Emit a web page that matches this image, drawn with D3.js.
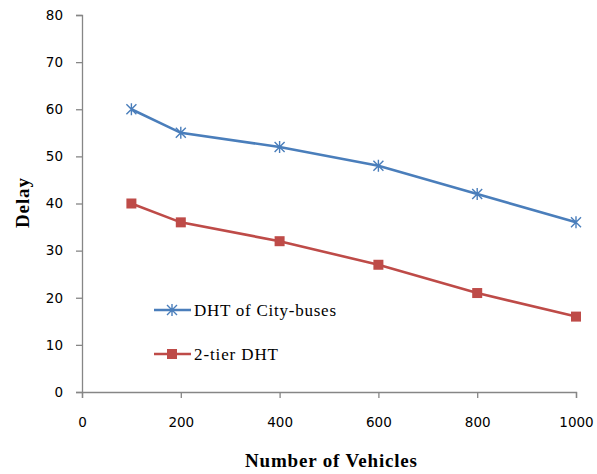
<!DOCTYPE html>
<html><head><meta charset="utf-8">
<script src="https://cdn.jsdelivr.net/npm/d3@7"></script>
<style>body{margin:0;background:#fff}</style>
</head><body>
<svg id="c" width="597" height="474"></svg>
<script>
const vehicles = [100, 200, 400, 600, 800, 1000];
const dhtCityBuses = [60, 55, 52, 48, 42, 36];
const twoTierDHT = [40, 36, 32, 27, 21, 16];
const xTicks = [0, 200, 400, 600, 800, 1000];
const yTicks = [0, 10, 20, 30, 40, 50, 60, 70, 80];
const seriesNames = ["DHT of City-buses", "2-tier DHT"];

const svg = d3.select("#c");
const x = d3.scaleLinear().domain([0, 1000]).range([82, 576]);
const y = d3.scaleLinear().domain([0, 80]).range([392, 15]);
const axisColor = "#868686";

const gx = svg.append("g").attr("transform", "translate(0,392)")
  .call(d3.axisBottom(x).tickValues(xTicks).tickFormat(d3.format("d")).tickSize(6).tickPadding(19));
const gy = svg.append("g").attr("transform", "translate(82,0)")
  .call(d3.axisLeft(y).tickValues(yTicks).tickFormat(d3.format("d")).tickSize(6).tickPadding(13));
[gx, gy].forEach(g => {
  g.select(".domain").attr("stroke", axisColor).attr("stroke-width", 1.3);
  g.selectAll(".tick line").attr("stroke", axisColor).attr("stroke-width", 1.3);
  g.selectAll(".tick text").attr("font-family", "DejaVu Sans, sans-serif")
    .attr("font-size", 13.5).attr("fill", "#000");
});

const line = d3.line().x(d => x(d[0])).y(d => y(d[1]));
const blue = "#4a7ebb", red = "#be4b48";
const s1 = vehicles.map((v, i) => [v, dhtCityBuses[i]]);
const s2 = vehicles.map((v, i) => [v, twoTierDHT[i]]);

function star(g, cx, cy, color) {
  const r = 5;
  g.append("path")
    .attr("d", `M${cx - r},${cy - r}L${cx + r},${cy + r}M${cx - r},${cy + r}L${cx + r},${cy - r}M${cx},${cy - r - 1}L${cx},${cy + r + 1}`)
    .attr("stroke", color).attr("stroke-width", 1.4).attr("fill", "none");
}
function square(g, cx, cy, color) {
  g.append("rect").attr("x", cx - 5).attr("y", cy - 5).attr("width", 10).attr("height", 10).attr("fill", color);
}

svg.append("path").datum(s1).attr("d", line).attr("fill", "none").attr("stroke", blue).attr("stroke-width", 2.6);
svg.append("path").datum(s2).attr("d", line).attr("fill", "none").attr("stroke", red).attr("stroke-width", 2.6);
const m = svg.append("g");
s1.forEach(d => star(m, x(d[0]), y(d[1]), blue));
s2.forEach(d => square(m, x(d[0]), y(d[1]), red));

// legend
const leg = svg.append("g");
[[blue, 310, star, 142], [red, 354, square, 84]].forEach(([c, ly, mk, tl], i) => {
  leg.append("line").attr("x1", 154).attr("x2", 191).attr("y1", ly).attr("y2", ly).attr("stroke", c).attr("stroke-width", 2.6);
  mk(leg, 172, ly, c);
  leg.append("text").attr("x", 194).attr("y", ly + 6).text(seriesNames[i])
    .attr("textLength", tl).attr("lengthAdjust", "spacing")
    .attr("font-family", "Liberation Serif, serif").attr("font-size", 17).attr("fill", "#000");
});

svg.append("text").attr("x", 331).attr("y", 467).attr("text-anchor", "middle")
  .attr("textLength", 172).attr("lengthAdjust", "spacing")
  .attr("font-family", "Liberation Serif, serif").attr("font-weight", "bold").attr("font-size", 19)
  .text("Number of Vehicles");
svg.append("text").attr("transform", "translate(29,203) rotate(-90)").attr("text-anchor", "middle")
  .attr("textLength", 50).attr("lengthAdjust", "spacing")
  .attr("font-family", "Liberation Serif, serif").attr("font-weight", "bold").attr("font-size", 19)
  .text("Delay");
</script>
</body></html>
